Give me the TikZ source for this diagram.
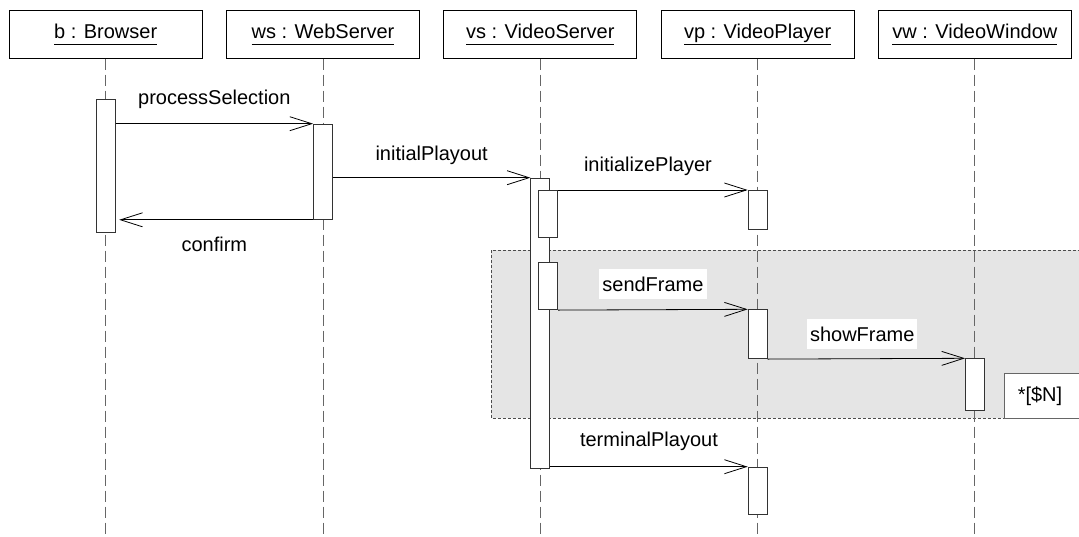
\documentclass[tikz,border=0pt]{standalone}
\usepackage{fontspec}
\setmainfont{Liberation Sans}
\usetikzlibrary{arrows.meta, positioning}

\newcommand{\objname}[1]{\underline{#1\vphantom{py}}}

\tikzset{
  object/.style={draw, line width=0.8pt, minimum width=193pt, minimum height=48pt, inner sep=0pt},
  lifeline/.style={draw=black!60, line width=0.9pt, dash pattern=on 11pt off 5pt},
  activation/.style={draw=black!80, fill=white, line width=0.8pt, minimum width=19pt, inner sep=0pt, anchor=north},
  message/.style={line width=0.8pt, -{Straight Barb[length=22pt,width=14pt]}},
  msglabel/.style={fill=white, inner xsep=3pt, inner ysep=0pt, minimum height=30pt},
}

\begin{document}
\begin{tikzpicture}[x=1pt, y=-1pt, font=\fontsize{20}{24}\selectfont]
    \clip (0,0) rectangle (1079,536);

    % Loop fragment
    \draw[draw=black!70, fill=black!10, line width=0.7pt, dash pattern=on 3pt off 2pt] (491,250) rectangle (1090,418.3);
    \draw[draw=black!60, fill=white, line width=0.8pt] (1004.7,373.3) rectangle (1090,418.3);
    \node (loopGuard) at (1040,396) {*[\$N]};

    % Objects
    \node[object] (b) at (105.7,34.2) {\objname{b : Browser}};
    \node[object, right=23.5pt of b] (ws) {\objname{ws : WebServer}};
    \node[object, right=23.5pt of ws] (vs) {\objname{vs : VideoServer}};
    \node[object, right=23.5pt of vs] (vp) {\objname{vp : VideoPlayer}};
    \node[object, right=23.5pt of vp] (vw) {\objname{vw : VideoWindow}};

    % Lifelines
    \foreach \o in {b, ws, vs, vp, vw}
        \draw[lifeline] (\o.south) -- ++(0,475);

    % Activations
    \node[activation, minimum height=133pt] (bAct) at (b |- 0,99.3) {};
    \node[activation, minimum height=95.3pt] (wsAct) at (ws |- 0,123.7) {};
    \node[activation, minimum height=290pt] (vsAct) at (vs |- 0,177.7) {};
    \node[activation, minimum height=46.7pt] (vsSubA) at (548.3,190) {};
    \node[activation, minimum height=47.3pt] (vsSubB) at (548.3,262) {};
    \node[activation, minimum height=39.3pt] (vpActA) at (vp |- 0,190) {};
    \node[activation, minimum height=49pt] (vpActB) at (vp |- 0,309.3) {};
    \node[activation, minimum height=52pt] (vwAct) at (vw |- 0,358.3) {};
    \node[activation, minimum height=47.6pt] (vpActC) at (vp |- 0,466.7) {};

    % Messages
    \draw[message] (bAct.east |- wsAct.north) -- node[midway, yshift=24.4pt] (lblProcess) {processSelection} (wsAct.north west);
    \draw[message] (wsAct.east |- vsAct.north) -- node[midway, yshift=22.7pt] (lblInitial) {initialPlayout} (vsAct.north west);
    \draw[message, shorten >=3.6pt] (wsAct.south west) -- node[midway, yshift=-24.3pt] (lblConfirm) {confirm} (bAct.east |- wsAct.south);
    \draw[message] (vsSubA.north east) -- node[midway, xshift=-5pt, yshift=24pt] (lblInitPlayer) {initializePlayer} (vpActA.north west);
    \draw[message] (vsSubB.south east) -- node[msglabel, midway, yshift=25.3pt] (lblSend) {sendFrame} (vpActB.north west);
    \draw[message] (vpActB.south east) -- node[msglabel, midway, xshift=-4pt, yshift=24.8pt] (lblShow) {showFrame} (vwAct.north west);
    \draw[message] (vsAct.east |- vpActC.north) -- node[midway, yshift=25pt] (lblTerminal) {terminalPlayout} (vpActC.north west);
\end{tikzpicture}
\end{document}
